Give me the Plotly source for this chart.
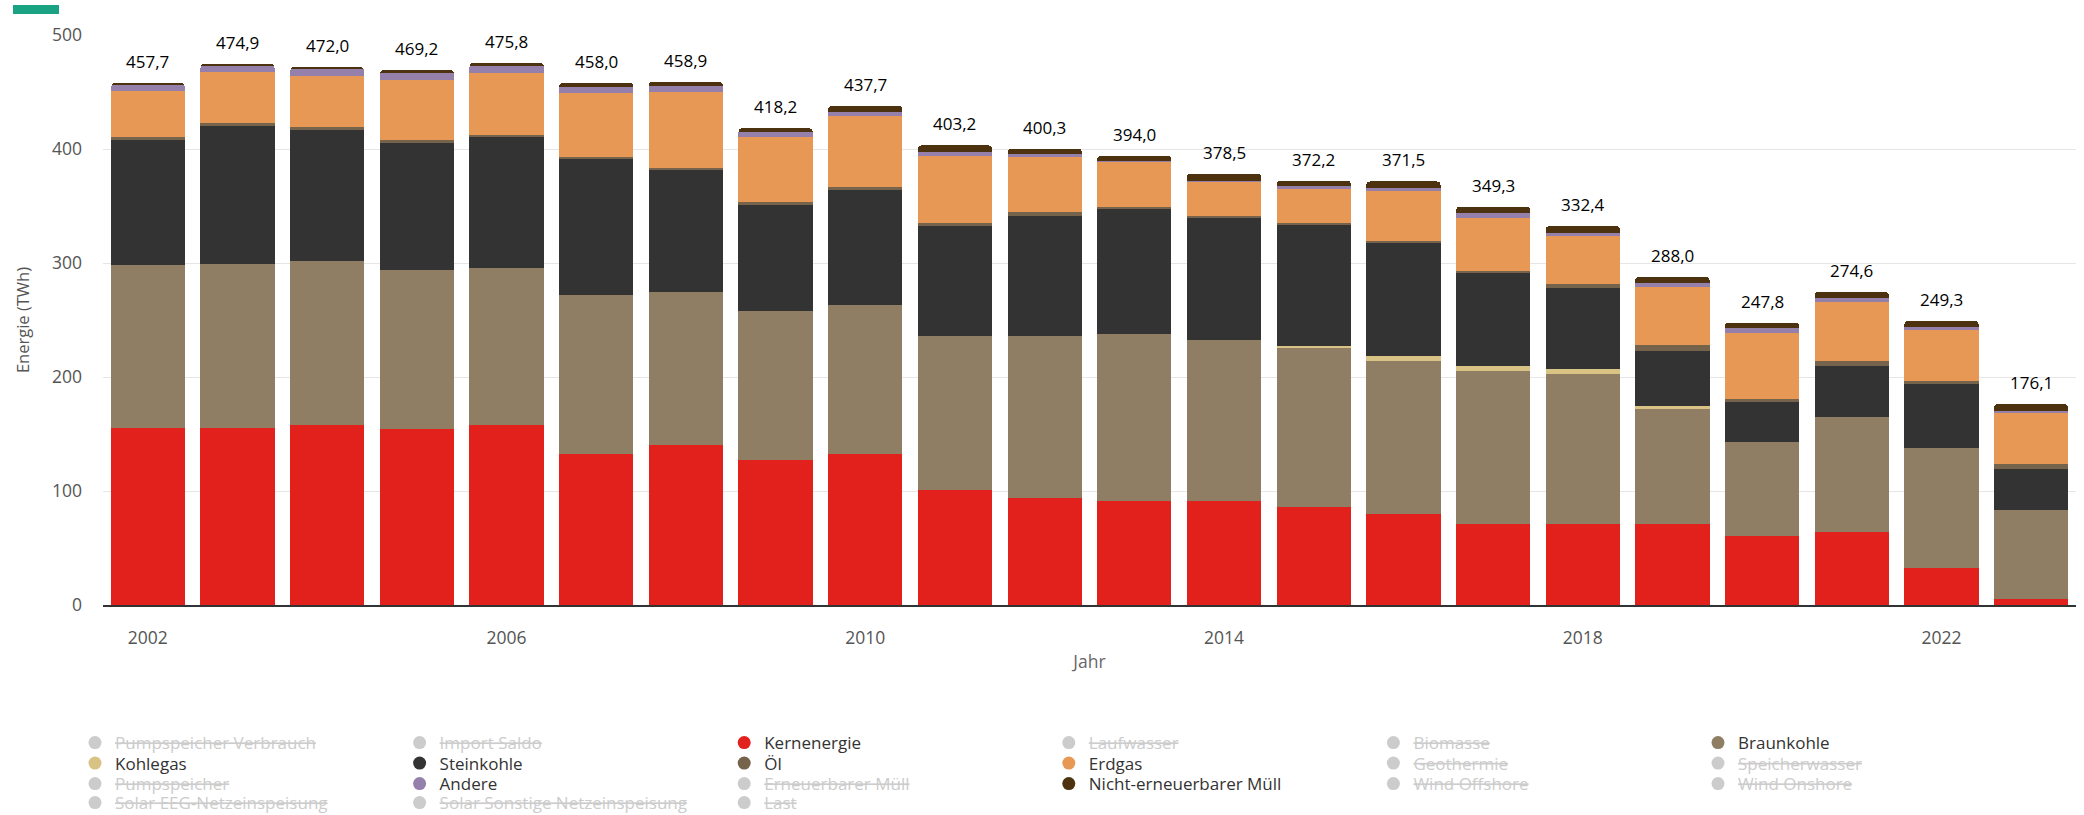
import plotly.graph_objects as go

# --- data (TWh) -------------------------------------------------------------
years = [2002, 2003, 2004, 2005, 2006, 2007, 2008, 2009, 2010, 2011, 2012,
         2013, 2014, 2015, 2016, 2017, 2018, 2019, 2020, 2021, 2022, 2023]

kernenergie = [155.4, 155.4, 158.0, 154.2, 158.0, 132.2, 140.1, 126.9, 132.2, 101.3, 94.0,
               91.0, 91.0, 86.0, 79.9, 70.8, 70.8, 70.8, 60.2, 64.3, 32.3, 5.3]
braunkohle = [142.8, 143.7, 143.4, 139.6, 137.3, 140.0, 134.5, 131.2, 131.2, 135.1, 142.4,
              146.9, 141.6, 139.8, 134.5, 134.8, 132.1, 101.3, 82.5, 100.5, 105.4, 78.4]
kohlegas = [0, 0, 0, 0, 0, 0, 0, 0, 0, 0, 0,
            0, 0, 1.5, 3.8, 3.8, 3.9, 2.6, 0, 0, 0, 0]
steinkohle = [110.1, 120.8, 115.6, 111.6, 115.3, 119.5, 106.6, 92.6, 100.6, 96.4, 105.1,
              110.1, 107.5, 106.5, 99.8, 82.2, 71.7, 48.5, 35.8, 45.2, 55.8, 35.5]
oel = [2.6, 2.6, 2.6, 2.4, 1.7, 1.4, 2.0, 2.9, 2.3, 2.6, 2.9,
       1.2, 0.9, 1.5, 1.7, 1.5, 3.5, 5.0, 2.6, 4.1, 3.0, 4.1]
erdgas = [39.6, 44.9, 44.6, 52.4, 54.5, 56.2, 66.7, 57.1, 62.6, 58.5, 49.2,
          39.8, 30.8, 29.7, 43.2, 46.6, 41.6, 50.5, 57.9, 51.7, 44.9, 45.0]
andere = [5.8, 6.1, 6.4, 6.4, 6.4, 4.9, 5.2, 3.8, 3.5, 3.8, 1.7,
          0.3, 0.3, 2.3, 2.5, 4.6, 2.6, 3.8, 3.8, 3.8, 2.7, 2.3]
nicht_erneuerbarer_muell = [1.4, 1.4, 1.4, 2.6, 2.6, 3.8, 3.8, 3.7, 5.3, 5.5, 5.0,
                            4.7, 6.4, 4.9, 6.1, 5.0, 6.2, 5.5, 5.0, 5.0, 5.2, 5.5]

x_ticks = [2002, 2006, 2010, 2014, 2018, 2022]
y_ticks = [0, 100, 200, 300, 400, 500]

# stacked bottom -> top
series = [
    ("Kernenergie", kernenergie, "#e2201c"),
    ("Braunkohle", braunkohle, "#8f7d64"),
    ("Kohlegas", kohlegas, "#d8c385"),
    ("Steinkohle", steinkohle, "#333333"),
    ("Öl", oel, "#76634c"),
    ("Erdgas", erdgas, "#e89855"),
    ("Andere", andere, "#9580ac"),
    ("Nicht-erneuerbarer Müll", nicht_erneuerbarer_muell, "#4d3210"),
]

# legend entries, row by row (6 per row); series without data are switched off
legend_order = [
    "Pumpspeicher Verbrauch", "Import Saldo", "Kernenergie", "Laufwasser", "Biomasse", "Braunkohle",
    "Kohlegas", "Steinkohle", "Öl", "Erdgas", "Geothermie", "Speicherwasser",
    "Pumpspeicher", "Andere", "Erneuerbarer Müll", "Nicht-erneuerbarer Müll", "Wind Offshore", "Wind Onshore",
    "Solar EEG-Netzeinspeisung", "Solar Sonstige Netzeinspeisung", "Last",
]

W, H = 2084, 815
M_L, M_R, M_T, M_B = 103, 8, 35, 210
FONT = "Open Sans"
FS = 17.5


def px_to_paper(x, y):
    pw = W - M_L - M_R
    ph = H - M_T - M_B
    return (x - M_L) / pw, (H - M_B - y) / ph


fig = go.Figure()

colors = {}
for name, vals, color in series:
    colors[name] = color
    fig.add_trace(go.Bar(
        x=years, y=vals, name=name, legendgroup=name, showlegend=False,
        marker=dict(color=color, line=dict(width=0)),
        hovertemplate=name + ": %{y:.1f} TWh<extra></extra>",
    ))

# stack totals shown above each bar
totals = [round(sum(v[i] for _, v, _ in series), 1) for i in range(len(years))]
for yr, tot in zip(years, totals):
    fig.add_annotation(
        x=yr, y=tot, xref="x", yref="y",
        text=f"{tot:.1f}".replace(".", ","),
        showarrow=False, yanchor="bottom", yshift=8,
        font=dict(family=FONT, size=FS - 0.5, color="#000000"),
    )

# legend proxies (round symbols)
legend_ids = ["legend", "legend2", "legend3", "legend4"]
for i, name in enumerate(legend_order):
    lid = legend_ids[i // 6]
    if name in colors:
        fig.add_trace(go.Scatter(
            x=[None], y=[None], mode="markers", name=name, legendgroup=name,
            legend=lid, hoverinfo="skip",
            marker=dict(symbol="circle", size=13, color=colors[name]),
        ))
    else:
        fig.add_trace(go.Scatter(
            x=[None], y=[None], mode="markers",
            name=f'<span style="text-decoration:line-through;color:#cccccc">{name}</span>',
            legend=lid, hoverinfo="skip",
            marker=dict(symbol="circle", size=13, color="#cccccc"),
        ))

row_centers = [743, 763.5, 784, 803]
legend_layouts = {}
for lid, yc in zip(legend_ids, row_centers):
    legend_layouts[lid] = dict(
        orientation="h", xref="container", yref="container",
        x=75 / W, xanchor="left", y=1 - yc / H, yanchor="middle",
        entrywidth=279.6, entrywidthmode="pixels",
        font=dict(family=FONT, size=FS - 0.5, color="#333333"),
        bgcolor="rgba(0,0,0,0)", traceorder="normal", itemsizing="trace",
    )

# small accent bar in the top-left corner
x0, y0 = px_to_paper(13, 14)
x1, y1 = px_to_paper(59, 5)
fig.add_shape(type="rect", xref="paper", yref="paper", x0=x0, x1=x1, y0=y0, y1=y1,
              fillcolor="#19a383", line=dict(width=0), layer="above")

fig.update_layout(
    width=W, height=H,
    margin=dict(l=M_L, r=M_R, t=M_T, b=M_B),
    paper_bgcolor="white", plot_bgcolor="white",
    barmode="stack", bargap=0.172, barcornerradius=4,
    font=dict(family=FONT, size=FS, color="#666666"),
    xaxis=dict(
        range=[2001.5, 2023.5], tickvals=x_ticks, ticktext=[str(t) for t in x_ticks],
        showgrid=False, zeroline=False, showline=True, linecolor="#333333", linewidth=2,
        ticks="", ticklabelstandoff=16,
        tickfont=dict(family=FONT, size=FS, color="#555555"),
        title=dict(text="Jahr", standoff=8, font=dict(family=FONT, size=FS, color="#666666")),
    ),
    yaxis=dict(
        range=[0, 500], tickvals=y_ticks, showgrid=True, gridcolor="#e6e6e6", gridwidth=1,
        zeroline=False, showline=False, ticks="", ticklabelstandoff=20,
        tickfont=dict(family=FONT, size=FS, color="#555555"),
        title=dict(text="Energie (TWh)", standoff=18,
                   font=dict(family=FONT, size=FS - 1, color="#555555")),
    ),
    showlegend=True,
    **legend_layouts,
)

fig.write_html("out.html")
